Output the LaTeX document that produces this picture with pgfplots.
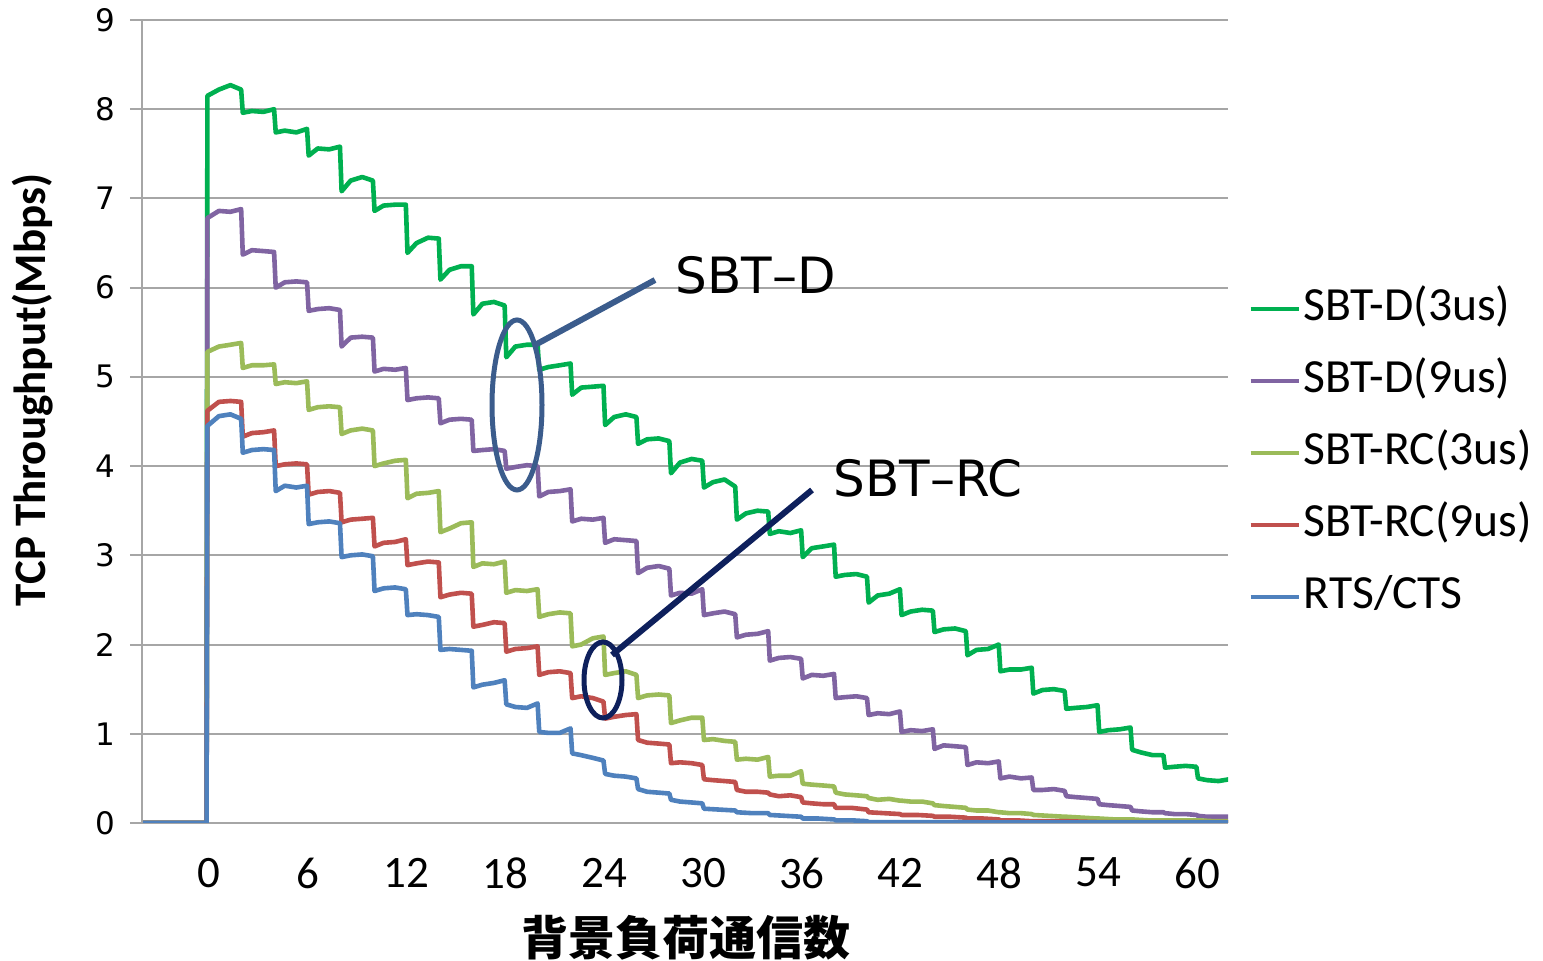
\documentclass[border=0pt]{standalone}
\usepackage{pgfplots}
\pgfplotsset{compat=1.18}
\usepackage{fontspec}
\setmainfont{Carlito}
\newfontfamily\dejavu{DejaVu Sans}
\newfontfamily\cjk{Noto Sans CJK JP}
\definecolor{cG}{RGB}{0,176,80}
\definecolor{cP}{RGB}{128,100,162}
\definecolor{cL}{RGB}{155,187,89}
\definecolor{cR}{RGB}{192,80,77}
\definecolor{cB}{RGB}{79,129,189}
\definecolor{gridgray}{RGB}{166,166,166}
\definecolor{annA}{RGB}{59,92,140}
\definecolor{annB}{RGB}{14,32,92}
\begin{document}
\begin{tikzpicture}
\useasboundingbox (-71pt,-69pt) rectangle (700.5pt,411.5pt);
\begin{axis}[
  at={(0pt,0pt)}, anchor=south west,
  scale only axis, width=543pt, height=401.5pt,
  xmin=-4.07, xmax=61.87, ymin=0, ymax=9,
  axis lines*=left,
  axis line style={draw=gridgray, line width=1pt},
  xtick={0,6,...,60}, ytick={0,1,...,9},
  ymajorgrids, grid style={draw=gridgray, line width=1pt},
  x tick style={draw=none}, y tick style={draw=gridgray, line width=1pt},
  tick align=outside, major tick length=6pt,
  /pgf/number format/assume math mode=true,
  xticklabel style={font=\fontsize{22.5}{26}\selectfont, yshift=-8pt},
  yticklabel style={font=\dejavu\fontsize{15.5}{18}\selectfont, xshift=-4pt},
  legend style={draw=none, fill=none, at={(1,0.461)}, anchor=west, xshift=10pt,
    font=\fontsize{23.8}{28}\selectfont, row sep=10pt, inner sep=0pt,
    nodes={inner sep=1.5pt, text height=17.5pt, text depth=5.5pt}},
  legend cell align=left,
  legend image code/.code={\draw[#1, line width=2.2pt] (0pt,0pt) -- (24pt,0pt);},
  every axis plot/.append style={line width=2.3pt, line join=round, no markers},
]
\addplot[cG] coordinates {
(-4,0) (-0.15,0) (-0.1,8.15) (0.6,8.22) (1.3,8.27) (1.95,8.22)
(2.05,7.96) (2.6,7.98) (3.3,7.97) (3.95,8.0)
(4.05,7.74) (4.6,7.76) (5.3,7.74) (5.95,7.78)
(6.05,7.48) (6.6,7.56) (7.3,7.55) (7.95,7.58)
(8.05,7.08) (8.6,7.2) (9.3,7.24) (9.95,7.2)
(10.05,6.86) (10.6,6.92) (11.3,6.93) (11.95,6.93)
(12.05,6.39) (12.6,6.5) (13.3,6.56) (13.95,6.55)
(14.05,6.09) (14.6,6.2) (15.3,6.24) (15.95,6.24)
(16.05,5.7) (16.6,5.82) (17.3,5.84) (17.95,5.8)
(18.05,5.22) (18.6,5.34) (19.3,5.36) (19.95,5.36)
(20.05,5.08) (20.6,5.11) (21.3,5.13) (21.95,5.15)
(22.05,4.8) (22.6,4.88) (23.3,4.89) (23.95,4.9)
(24.05,4.46) (24.6,4.55) (25.3,4.58) (25.95,4.55)
(26.05,4.25) (26.6,4.3) (27.3,4.31) (27.95,4.28)
(28.05,3.92) (28.6,4.04) (29.3,4.08) (29.95,4.06)
(30.05,3.76) (30.6,3.82) (31.3,3.85) (31.95,3.77)
(32.05,3.40) (32.6,3.47) (33.3,3.5) (33.95,3.49)
(34.05,3.24) (34.6,3.27) (35.3,3.25) (35.95,3.28)
(36.05,2.98) (36.6,3.08) (37.3,3.1) (37.95,3.12)
(38.05,2.76) (38.6,2.78) (39.3,2.79) (39.95,2.76)
(40.05,2.47) (40.6,2.55) (41.3,2.57) (41.95,2.62)
(42.05,2.33) (42.6,2.37) (43.3,2.39) (43.95,2.38)
(44.05,2.14) (44.6,2.17) (45.3,2.18) (45.95,2.15)
(46.05,1.88) (46.6,1.94) (47.3,1.95) (47.95,2.0)
(48.05,1.70) (48.6,1.72) (49.3,1.72) (49.95,1.74)
(50.05,1.45) (50.6,1.49) (51.3,1.50) (51.95,1.48)
(52.05,1.28) (52.6,1.29) (53.3,1.30) (53.95,1.32)
(54.05,1.02) (54.6,1.04) (55.3,1.05) (55.95,1.07)
(56.05,0.82) (56.6,0.79) (57.3,0.76) (57.95,0.76)
(58.05,0.62) (58.6,0.63) (59.3,0.64) (59.95,0.63)
(60.05,0.5) (60.6,0.48) (61.3,0.47) (61.95,0.49)
};
\addlegendentry{SBT-D(3us)}
\addplot[cP] coordinates {
(-4,0) (-0.15,0) (-0.1,6.78) (0.6,6.86) (1.3,6.85) (1.95,6.88)
(2.05,6.37) (2.6,6.42) (3.3,6.41) (3.95,6.40)
(4.05,6.0) (4.6,6.06) (5.3,6.07) (5.95,6.06)
(6.05,5.74) (6.6,5.76) (7.3,5.77) (7.95,5.75)
(8.05,5.34) (8.6,5.44) (9.3,5.45) (9.95,5.44)
(10.05,5.06) (10.6,5.09) (11.3,5.08) (11.95,5.10)
(12.05,4.74) (12.6,4.76) (13.3,4.77) (13.95,4.76)
(14.05,4.48) (14.6,4.52) (15.3,4.53) (15.95,4.52)
(16.05,4.17) (16.6,4.18) (17.3,4.19) (17.95,4.17)
(18.05,3.97) (18.6,3.99) (19.3,4.01) (19.95,4.0)
(20.05,3.66) (20.6,3.71) (21.3,3.72) (21.95,3.74)
(22.05,3.38) (22.6,3.41) (23.3,3.40) (23.95,3.42)
(24.05,3.14) (24.6,3.18) (25.3,3.17) (25.95,3.16)
(26.05,2.80) (26.6,2.86) (27.3,2.88) (27.95,2.85)
(28.05,2.55) (28.6,2.58) (29.3,2.57) (29.95,2.62)
(30.05,2.33) (30.6,2.35) (31.3,2.37) (31.95,2.34)
(32.05,2.08) (32.6,2.11) (33.3,2.12) (33.95,2.15)
(34.05,1.82) (34.6,1.85) (35.3,1.86) (35.95,1.84)
(36.05,1.62) (36.6,1.66) (37.3,1.65) (37.95,1.67)
(38.05,1.40) (38.6,1.41) (39.3,1.42) (39.95,1.40)
(40.05,1.21) (40.6,1.23) (41.3,1.22) (41.95,1.25)
(42.05,1.02) (42.6,1.04) (43.3,1.03) (43.95,1.05)
(44.05,0.83) (44.6,0.87) (45.3,0.86) (45.95,0.85)
(46.05,0.65) (46.6,0.68) (47.3,0.67) (47.95,0.69)
(48.05,0.50) (48.6,0.52) (49.3,0.50) (49.95,0.51)
(50.05,0.37) (50.6,0.37) (51.3,0.38) (51.95,0.36)
(52.05,0.30) (52.6,0.29) (53.3,0.28) (53.95,0.27)
(54.05,0.21) (54.6,0.20) (55.3,0.19) (55.95,0.18)
(56.05,0.14) (56.6,0.13) (57.3,0.12) (57.95,0.12)
(58.05,0.11) (58.6,0.10) (59.3,0.10) (59.95,0.09)
(60.05,0.08) (60.6,0.07) (61.3,0.07) (61.95,0.07)
};
\addlegendentry{SBT-D(9us)}
\addplot[cL] coordinates {
(-4,0) (-0.15,0) (-0.1,5.28) (0.6,5.34) (1.3,5.36) (1.95,5.38)
(2.05,5.10) (2.6,5.13) (3.3,5.13) (3.95,5.14)
(4.05,4.92) (4.6,4.94) (5.3,4.93) (5.95,4.95)
(6.05,4.63) (6.6,4.66) (7.3,4.67) (7.95,4.66)
(8.05,4.36) (8.6,4.40) (9.3,4.42) (9.95,4.40)
(10.05,4.0) (10.6,4.03) (11.3,4.06) (11.95,4.07)
(12.05,3.64) (12.6,3.69) (13.3,3.70) (13.95,3.72)
(14.05,3.26) (14.6,3.30) (15.3,3.36) (15.95,3.37)
(16.05,2.87) (16.6,2.91) (17.3,2.90) (17.95,2.93)
(18.05,2.58) (18.6,2.61) (19.3,2.60) (19.95,2.62)
(20.05,2.31) (20.6,2.34) (21.3,2.36) (21.95,2.35)
(22.05,1.98) (22.6,2.0) (23.3,2.07) (23.95,2.09)
(24.05,1.66) (24.6,1.68) (25.3,1.70) (25.95,1.66)
(26.05,1.40) (26.6,1.43) (27.3,1.44) (27.95,1.43)
(28.05,1.12) (28.6,1.15) (29.3,1.18) (29.95,1.18)
(30.05,0.93) (30.6,0.94) (31.3,0.92) (31.95,0.91)
(32.05,0.71) (32.6,0.72) (33.3,0.71) (33.95,0.74)
(34.05,0.52) (34.6,0.53) (35.3,0.53) (35.95,0.58)
(36.05,0.44) (36.6,0.43) (37.3,0.42) (37.95,0.41)
(38.05,0.34) (38.6,0.32) (39.3,0.31) (39.95,0.30)
(40.05,0.28) (40.6,0.26) (41.3,0.27) (41.95,0.25)
(42.05,0.25) (42.6,0.24) (43.3,0.24) (43.95,0.22)
(44.05,0.20) (44.6,0.19) (45.3,0.18) (45.95,0.17)
(46.05,0.15) (46.6,0.14) (47.3,0.14) (47.95,0.12)
(48.05,0.12) (48.6,0.11) (49.3,0.11) (49.95,0.10)
(50.05,0.09) (51,0.08) (51.95,0.07)
(52.05,0.07) (53,0.06) (53.95,0.05)
(54.05,0.05) (55,0.04) (55.95,0.04)
(56.05,0.04) (57,0.03) (57.95,0.03)
(58.05,0.03) (59,0.03) (59.95,0.03)
(60.05,0.03) (61,0.02) (61.95,0.02)
};
\addlegendentry{SBT-RC(3us)}
\addplot[cR] coordinates {
(-4,0) (-0.15,0) (-0.1,4.62) (0.6,4.72) (1.3,4.73) (1.95,4.72)
(2.05,4.33) (2.6,4.37) (3.3,4.38) (3.95,4.40)
(4.05,4.0) (4.6,4.02) (5.3,4.03) (5.95,4.02)
(6.05,3.68) (6.6,3.71) (7.3,3.72) (7.95,3.70)
(8.05,3.37) (8.6,3.40) (9.3,3.41) (9.95,3.42)
(10.05,3.10) (10.6,3.14) (11.3,3.15) (11.95,3.18)
(12.05,2.89) (12.6,2.91) (13.3,2.93) (13.95,2.92)
(14.05,2.53) (14.6,2.56) (15.3,2.58) (15.95,2.57)
(16.05,2.20) (16.6,2.22) (17.3,2.25) (17.95,2.24)
(18.05,1.92) (18.6,1.95) (19.3,1.96) (19.95,1.98)
(20.05,1.66) (20.6,1.69) (21.3,1.70) (21.95,1.68)
(22.05,1.40) (22.6,1.42) (23.3,1.40) (23.95,1.36)
(24.05,1.17) (24.6,1.19) (25.3,1.21) (25.95,1.22)
(26.05,0.93) (26.6,0.90) (27.3,0.89) (27.95,0.88)
(28.05,0.67) (28.6,0.68) (29.3,0.67) (29.95,0.65)
(30.05,0.49) (30.6,0.48) (31.3,0.47) (31.95,0.46)
(32.05,0.37) (32.6,0.35) (33.3,0.35) (33.95,0.34)
(34.05,0.32) (34.6,0.30) (35.3,0.31) (35.95,0.29)
(36.05,0.23) (36.6,0.22) (37.3,0.21) (37.95,0.21)
(38.05,0.17) (39,0.17) (39.95,0.15)
(40.05,0.12) (41,0.11) (41.95,0.10)
(42.05,0.09) (43,0.09) (43.95,0.08)
(44.05,0.07) (45,0.07) (45.95,0.06)
(46.05,0.05) (47,0.05) (47.95,0.04)
(48.05,0.03) (49,0.03) (49.95,0.02)
(50.05,0.02) (52,0.02) (54,0.01) (58,0.01) (61.95,0.01)
};
\addlegendentry{SBT-RC(9us)}
\addplot[cB] coordinates {
(-4,0) (-0.15,0) (-0.1,4.45) (0.6,4.56) (1.3,4.58) (1.95,4.53)
(2.05,4.15) (2.6,4.18) (3.3,4.19) (3.95,4.18)
(4.05,3.72) (4.6,3.78) (5.3,3.76) (5.95,3.78)
(6.05,3.35) (6.6,3.37) (7.3,3.38) (7.95,3.36)
(8.05,2.98) (8.6,3.0) (9.3,3.01) (9.95,2.99)
(10.05,2.60) (10.6,2.63) (11.3,2.64) (11.95,2.62)
(12.05,2.33) (12.6,2.34) (13.3,2.33) (13.95,2.31)
(14.05,1.94) (14.6,1.95) (15.3,1.94) (15.95,1.93)
(16.05,1.52) (16.6,1.55) (17.3,1.57) (17.95,1.60)
(18.05,1.33) (18.6,1.30) (19.3,1.29) (19.95,1.34)
(20.05,1.02) (20.6,1.01) (21.3,1.01) (21.95,1.06)
(22.05,0.78) (22.6,0.76) (23.3,0.73) (23.95,0.70)
(24.05,0.55) (24.6,0.53) (25.3,0.52) (25.95,0.50)
(26.05,0.38) (26.6,0.35) (27.3,0.34) (27.95,0.33)
(28.05,0.26) (28.6,0.24) (29.3,0.23) (29.95,0.22)
(30.05,0.16) (31,0.15) (31.95,0.14)
(32.05,0.12) (33,0.11) (33.95,0.11)
(34.05,0.09) (35,0.08) (35.95,0.07)
(36.05,0.05) (37,0.05) (37.95,0.04)
(38.05,0.03) (39,0.03) (39.95,0.02)
(40.05,0.01) (44,0.01) (50,0.005) (61.95,0.005)
};
\addlegendentry{RTS/CTS}
\end{axis}
% annotations (positions in pt relative to the axis box)
\draw[annA, line width=2.5pt] (187.5pt,209pt) ellipse [x radius=12.5pt, y radius=42.5pt];
\draw[annA, line width=3pt] (196.5pt,239pt) -- (256.5pt,271.5pt);
\node[anchor=west, inner sep=0pt, font=\dejavu\fontsize{25}{30}\selectfont] at (266.5pt,274pt) {SBT–D};
\draw[annB, line width=2.5pt] (230.5pt,71.5pt) ellipse [x radius=9.5pt, y radius=19pt];
\draw[annB, line width=3pt] (235pt,84pt) -- (335pt,166.5pt);
\node[anchor=west, inner sep=0pt, font=\dejavu\fontsize{25}{30}\selectfont] at (345.5pt,172.5pt) {SBT–RC};
% axis titles
\node[rotate=90, inner sep=0pt, font=\bfseries\fontsize{22.5}{27}\selectfont] at (-54.5pt,216.5pt) {TCP Throughput(Mbps)};
\node[inner sep=0pt, font=\cjk\bfseries\fontsize{23.5}{28}\selectfont] at (272pt,-57.5pt) {背景負荷通信数};
\end{tikzpicture}
\end{document}
